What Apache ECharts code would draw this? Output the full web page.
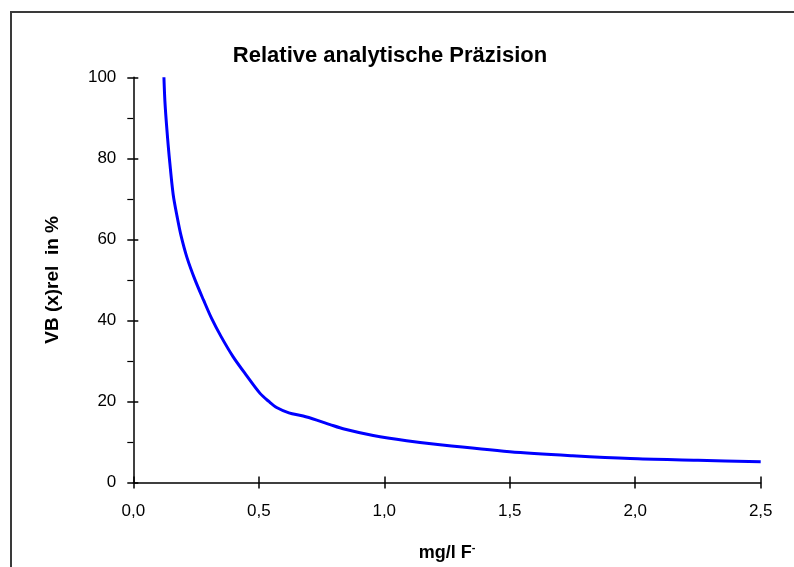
<!DOCTYPE html>
<html>
<head>
<meta charset="utf-8">
<script src="https://cdn.jsdelivr.net/npm/echarts@6/dist/echarts.min.js"></script>
<style>
    html, body { margin: 0; padding: 0; background: #ffffff; }
    #container { width: 794px; height: 567px; }
</style>
</head>
<body>
<div id="container"></div>
<script type="text/javascript">
    // concentration in mg/l F- (x) and relative precision in % (y)
    var concList = [0.122, 0.126, 0.134, 0.143, 0.159, 0.175, 0.19, 0.214, 0.246, 0.28, 0.312, 0.35, 0.398, 0.45, 0.505, 0.54, 0.571, 0.62, 0.677, 0.731, 0.784, 0.84, 0.956, 1.089, 1.222, 1.5, 1.75, 1.98, 2.25, 2.5];
    var precList = [100, 94, 87, 80.5, 71, 65.5, 61, 55.5, 50, 45, 40.5, 36, 31, 26.5, 22, 20, 18.5, 17.2, 16.4, 15.4, 14.3, 13.2, 11.6, 10.3, 9.3, 7.6, 6.6, 5.9, 5.5, 5.1];
    var xTicks = [0, 0.5, 1.0, 1.5, 2.0, 2.5];
    var yTicks = [0, 20, 40, 60, 80, 100];

    var lineData = [];
    for (var i = 0; i < concList.length; i++) {
        lineData.push([concList[i], precList[i]]);
    }

    var dom = document.getElementById("container");
    var myChart = echarts.init(dom);
    var font = 'Liberation Sans, Arial, sans-serif';

    var option = {
        animation: false,
        title: {
            text: 'Relative analytische Präzision',
            left: 385,
            textAlign: 'center',
            top: 40,
            textStyle: { fontFamily: font, fontSize: 22, fontWeight: 'bold', color: '#000' }
        },
        graphic: [{
            type: 'rect',
            shape: { x: 11, y: 12, width: 820, height: 600 },
            style: { fill: 'none', stroke: '#3a3a3a', lineWidth: 2 }
        }],
        grid: { left: 133.3, right: 33.3, top: 77.3, bottom: 83.7, containLabel: false },
        xAxis: [{
            type: 'value',
            min: xTicks[0],
            max: xTicks[xTicks.length - 1],
            interval: 0.5,
            splitLine: { show: false },
            axisLine: { lineStyle: { color: '#000', width: 1.5 } },
            axisTick: { length: 6, lineStyle: { color: '#000', width: 1.5 } },
            axisLabel: {
                margin: 20, fontFamily: font, fontSize: 17, color: '#000',
                formatter: function (v) { return v.toFixed(1).replace('.', ','); }
            },
            name: 'mg/l F{sup|-}',
            nameLocation: 'middle',
            nameGap: 60,
            nameTextStyle: {
                fontFamily: font, fontSize: 18, fontWeight: 'bold', color: '#000',
                rich: { sup: { fontFamily: font, fontSize: 11, fontWeight: 'bold', verticalAlign: 'top', padding: [0, 0, 10, 0] } }
            }
        }, {
            type: 'value',
            position: 'bottom',
            min: xTicks[0],
            max: xTicks[xTicks.length - 1],
            interval: 0.5,
            splitLine: { show: false },
            axisLine: { show: false },
            axisTick: { inside: true, length: 6, lineStyle: { color: '#000', width: 1.5 } },
            axisLabel: { show: false }
        }],
        yAxis: [{
            type: 'value',
            min: yTicks[0],
            max: yTicks[yTicks.length - 1],
            interval: 20,
            splitLine: { show: false },
            axisLine: { show: true, lineStyle: { color: '#000', width: 1.5 } },
            axisTick: { show: true, length: 6, lineStyle: { color: '#000', width: 1.5 } },
            minorTick: { show: true, splitNumber: 2, length: 6, lineStyle: { color: '#000', width: 1.2 } },
            axisLabel: { margin: 17, fontFamily: font, fontSize: 17, color: '#000' },
            name: 'VB (x)rel  in %',
            nameLocation: 'middle',
            nameGap: 71,
            nameTextStyle: { fontFamily: font, fontSize: 19, fontWeight: 'bold', color: '#000' }
        }, {
            type: 'value',
            position: 'left',
            min: yTicks[0],
            max: yTicks[yTicks.length - 1],
            interval: 20,
            splitLine: { show: false },
            axisLine: { show: false },
            axisTick: { show: true, inside: true, length: 5, lineStyle: { color: '#000', width: 1.5 } },
            axisLabel: { show: false }
        }],
        series: [{
            type: 'line',
            data: lineData,
            smooth: 0.3,
            showSymbol: false,
            clip: true,
            lineStyle: { color: '#0000ff', width: 3 }
        }]
    };
    myChart.setOption(option);
</script>
</body>
</html>
